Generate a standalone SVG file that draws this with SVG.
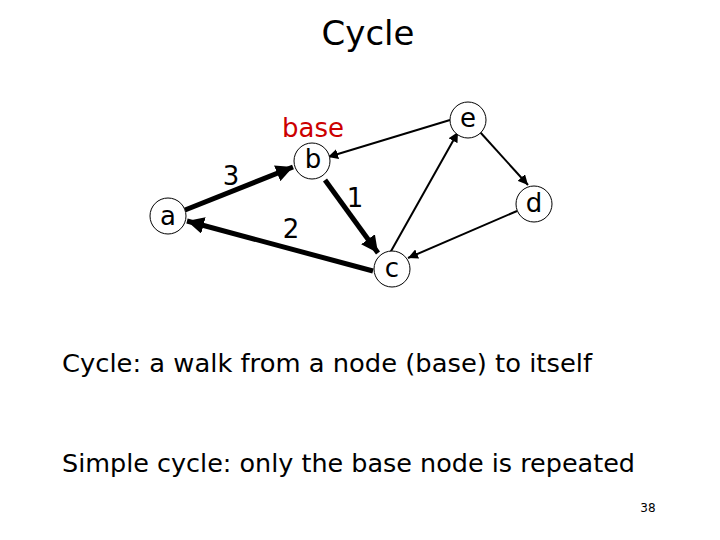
<svg xmlns="http://www.w3.org/2000/svg" width="720" height="540" viewBox="0 0 720 540">
<style>
text{font-family:"DejaVu Sans","Liberation Sans",sans-serif;fill:#000}
.node circle{fill:#fff;stroke:#000;stroke-width:1}
.node text{font-size:26px;text-anchor:middle}
.thick{stroke:#000;stroke-width:5;fill:none}
.thin{stroke:#000;stroke-width:2;fill:none}
.lbl{font-size:26px;text-anchor:middle}
</style>
<defs>
<marker id="ah" viewBox="0 0 10 10" refX="10" refY="5" markerWidth="3.4" markerHeight="3.4" orient="auto" markerUnits="strokeWidth"><path d="M0,0 L10,5 L0,10 z" fill="#000"/></marker>
<marker id="as" viewBox="0 0 10 10" refX="10" refY="5" markerWidth="5" markerHeight="5" orient="auto" markerUnits="strokeWidth"><path d="M0,0 L10,5 L0,10 z" fill="#000"/></marker>
</defs>
<rect width="720" height="540" fill="#fff"/>
<text x="368" y="45" font-size="34" text-anchor="middle">Cycle</text>
<g id="connectors">
<line class="thick" x1="185" y1="210" x2="293" y2="167" marker-end="url(#ah)"/>
<line class="thick" x1="325" y1="180" x2="378" y2="253" marker-end="url(#ah)"/>
<line class="thick" x1="373" y1="271" x2="187" y2="221" marker-end="url(#ah)"/>
<line class="thin" x1="450" y1="120" x2="328" y2="157" marker-end="url(#as)"/>
<line class="thin" x1="390" y1="253" x2="458" y2="132" marker-end="url(#as)"/>
<line class="thin" x1="480" y1="132" x2="528" y2="185" marker-end="url(#as)"/>
<line class="thin" x1="517" y1="211" x2="408" y2="258" marker-end="url(#as)"/>
<text class="lbl" x="231" y="185">3</text>
<text class="lbl" x="355" y="207">1</text>
<text class="lbl" x="291" y="238">2</text>
</g>
<g id="node-a" class="node"><circle cx="168" cy="216" r="18"/><text x="168" y="225">a</text></g>
<g id="node-b" class="node"><circle cx="312" cy="161" r="18"/><text x="313" y="168">b</text><text x="313" y="137" style="fill:#cc0000">base</text></g>
<g id="node-c" class="node"><circle cx="392" cy="269" r="18"/><text x="392" y="277">c</text></g>
<g id="node-e" class="node"><circle cx="468" cy="120" r="18"/><text x="468" y="127">e</text></g>
<g id="node-d" class="node"><circle cx="534" cy="204" r="18"/><text x="534" y="212">d</text></g>
<text x="62" y="372" font-size="25" textLength="530" lengthAdjust="spacingAndGlyphs">Cycle: a walk from a node (base) to itself</text>
<text x="62" y="472" font-size="25" textLength="573" lengthAdjust="spacingAndGlyphs">Simple cycle: only the base node is repeated</text>
<text x="648" y="512" font-size="12" text-anchor="middle">38</text>
</svg>
